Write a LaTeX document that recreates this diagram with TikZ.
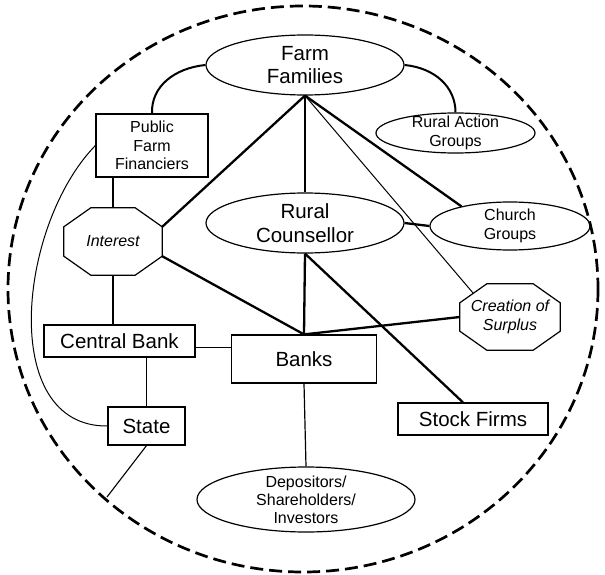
\documentclass[tikz,border=0pt]{standalone}
\usepackage{fontspec}
\setmainfont{Liberation Sans}
\usetikzlibrary{shapes.geometric,calc}
\newcommand\octoshape[3]{%
  \path (#1.north west) ++(#2,0) coordinate (#1-tl)
        (#1.north east) ++(-#2,0) coordinate (#1-tr)
        (#1.north east) ++(0,#3) coordinate (#1-rt)
        (#1.south east) ++(0,-#3) coordinate (#1-rb)
        (#1.south east) ++(-#2,0) coordinate (#1-br)
        (#1.south west) ++(#2,0) coordinate (#1-bl)
        (#1.south west) ++(0,-#3) coordinate (#1-lb)
        (#1.north west) ++(0,#3) coordinate (#1-lt);
  \draw[nodeline] (#1-tl) -- (#1-tr) -- (#1-rt) -- (#1-rb) -- (#1-br) -- (#1-bl) -- (#1-lb) -- (#1-lt) -- cycle;}
\tikzset{
  nodeline/.style={line width=1.2pt, line join=miter},
  bigtxt/.style={font=\fontsize{20.5}{23}\selectfont, align=center},
  smalltxt/.style={font=\fontsize{16}{18.5}\selectfont, align=center},
  italtxt/.style={font=\fontsize{16}{18.5}\selectfont\itshape, align=center},
  ell/.style={ellipse, draw, nodeline, inner xsep=0pt, inner ysep=-4pt},
  boxnode/.style={rectangle, draw, nodeline, inner sep=0pt},
  octnode/.style={rectangle, inner sep=0pt},
  thickln/.style={line width=2.3pt},
  medln/.style={line width=1.6pt},
  thinln/.style={line width=1pt},
  outerring/.style={line width=2.7pt, dash pattern=on 13pt off 6pt}
}
\begin{document}
\begin{tikzpicture}[x=1pt,y=-1pt]
\useasboundingbox (0,0) rectangle (605,575);
% outer dashed ring
\draw[outerring] (303,289) ellipse [x radius=295, y radius=283];

% nodes
\node[ell, bigtxt, minimum width=198, minimum height=60] (ff) at (305,65) {Farm\\Families};
\node[ell, smalltxt, minimum width=159, minimum height=40] (rag) at (455.5,133) {Rural Action\\Groups};
\node[boxnode, smalltxt, minimum width=112, minimum height=63] (pff) at (152,145.5) {Public\\Farm\\Financiers};
\node[ell, font=\fontsize{20.5}{23.5}\selectfont, align=center, minimum width=198, minimum height=60] (rc) at (305,223) {Rural\\Counsellor};
\node[ell, smalltxt, minimum width=160, minimum height=48] (cg) at (510,226) {Church\\Groups};
\node[octnode, italtxt, minimum width=98, minimum height=67] (int) at (113,241.5) {Interest};
\octoshape{int}{27}{19}
\node[octnode, italtxt, minimum width=100, minimum height=66] (cos) at (510,317) {Creation of\\Surplus};
\octoshape{cos}{27}{19}
\node[boxnode, bigtxt, minimum width=151, minimum height=32] (cb) at (119.5,341) {Central Bank};
\node[boxnode, bigtxt, minimum width=145, minimum height=48] (banks) at (304,359) {Banks};
\node[boxnode, bigtxt, minimum width=77, minimum height=38] (state) at (146.5,426) {State};
\node[boxnode, bigtxt, minimum width=150, minimum height=32] (sf) at (473,419) {Stock Firms};
\node[ell, font=\fontsize{16}{18}\selectfont, align=center, minimum width=218, minimum height=65] (dep) at (306,499.5) {Depositors/\\Shareholders/\\Investors};
\coordinate (stend) at (107,497);

% arcs from Farm Families
\draw[line width=2pt] (ff.west) .. controls (175,68) and (151,86) .. (pff.north);
\draw[line width=2pt] (ff.east) .. controls (435,68) and (455.5,87) .. (rag.north);

% thick connectors
\draw[thickln] (ff.south) -- (int-rt);
\draw[thickln] (ff.south) -- (rc.north);
\draw[thickln] (ff.south) -- (cg.158);
\draw[thinln] (ff.south) -- ($(cos-tl)!0.5!(cos-lt)$);
\draw[thickln] (rc.east) -- (cg.west);
\draw[thickln] (int-rb) -- (banks.north);
\draw[thickln] (rc.south) -- (banks.north);
\draw[thickln] (cos.west) -- (banks.north);
\draw[thickln] (rc.south) -- ([xshift=-10pt]sf.north);

% thin connectors
\draw[medln] (pff.south -| int.north) -- (int.north);
\draw[line width=1.2pt] (int.south) -- (int.south |- cb.north);
\draw[thinln] ([yshift=-6pt]cb.east) -- ([yshift=-6pt]cb.east -| banks.west);
\draw[line width=1.2pt] (state.north |- cb.south) -- (state.north);
\draw[line width=1.2pt] (banks.south) -- (dep.north);
\draw[line width=1.1pt] (state.south) -- (stend);
\draw[thinln] (pff.west) .. controls (18,225) and (-2,427) .. (state.west);
\end{tikzpicture}
\end{document}
